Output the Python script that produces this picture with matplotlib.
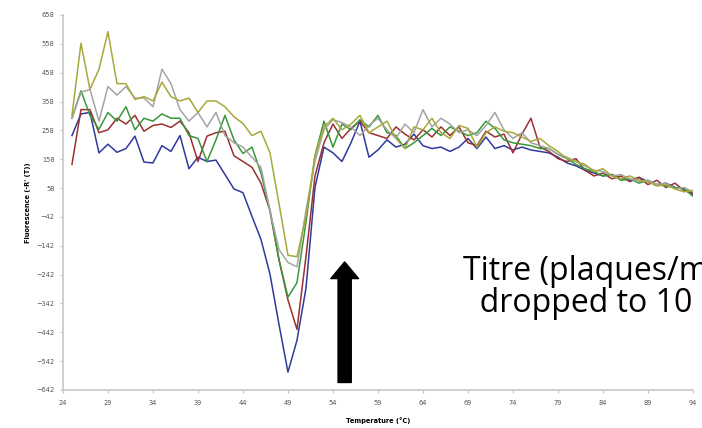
import matplotlib.pyplot as plt
import numpy as np

# melt curve readings, one value per degree
temps = list(range(25, 95))

blue = [240, 315, 320, 180, 210, 182, 195, 238, 148, 145,
        205, 185, 240, 125, 165, 150, 155, 105, 55, 42,
        -40, -120, -240, -414, -580, -470, -290, 60, 200, 180,
        150, 215, 290, 165, 190, 225, 200, 210, 245, 205,
        195, 200, 185, 200, 230, 195, 235, 195, 205, 190,
        200, 190, 185, 180, 165, 145, 135, 120, 110, 100,
        105, 90, 85, 95, 80, 70, 75, 60, 55, 35]

red = [140, 330, 330, 250, 260, 300, 280, 310, 255, 275,
       280, 268, 290, 250, 150, 238, 250, 255, 170, 150,
       130, 75, -20, -190, -330, -432, -180, 100, 215, 280,
       230, 265, 290, 250, 240, 230, 270, 245, 225, 260,
       235, 270, 240, 270, 215, 205, 255, 235, 245, 180,
       245, 300, 200, 185, 160, 150, 160, 120, 100, 110,
       90, 100, 80, 95, 70, 85, 60, 75, 50, 40]

green = [300, 395, 310, 262, 320, 290, 340, 260, 300, 290,
         315, 300, 300, 240, 230, 150, 225, 310, 225, 178,
         200, 110, -20, -190, -320, -270, -60, 170, 290, 200,
         280, 260, 295, 270, 310, 250, 240, 195, 215, 240,
         265, 240, 270, 255, 240, 250, 290, 265, 225, 215,
         210, 205, 195, 195, 175, 160, 140, 125, 115, 100,
         105, 85, 90, 75, 85, 70, 65, 60, 55, 30]

grey = [300, 390, 400, 290, 410, 380, 410, 370, 370, 340,
        470, 420, 330, 290, 320, 270, 320, 240, 215, 200,
        165, 130, -20, -155, -200, -215, -20, 150, 260, 295,
        285, 270, 240, 275, 300, 260, 230, 280, 250, 330,
        270, 300, 280, 250, 260, 240, 275, 320, 260, 230,
        250, 215, 205, 195, 175, 165, 150, 135, 120, 115,
        100, 105, 90, 80, 85, 70, 75, 55, 60, 45]

olive = [310, 560, 400, 470, 600, 420, 420, 365, 375, 360,
         425, 375, 360, 370, 320, 360, 360, 340, 305, 282,
         240, 255, 180, 5, -175, -180, -40, 170, 270, 300,
         260, 280, 310, 250, 270, 290, 230, 195, 270, 260,
         300, 250, 230, 275, 265, 200, 250, 270, 255, 250,
         235, 220, 230, 205, 185, 160, 150, 140, 115, 125,
         100, 90, 100, 85, 80, 65, 70, 55, 45, 50]

series = [(blue, '#30399c'), (red, '#9c2f2f'), (green, '#37983a'),
          (grey, '#a4a4a4'), (olive, '#a8a83a')]

yticks = list(range(-642, 659, 100))
xticks = list(range(24, 95, 5))

fig = plt.figure(figsize=(7.02, 4.28), dpi=100)
ax = fig.add_axes([0.0897, 0.0888, 0.8974, 0.8762])

for values, colour in series:
    ax.plot(temps, values, color=colour, linewidth=1.1)

ax.set_xlim(24, 94)
ax.set_ylim(-642, 658)
ax.set_xticks(xticks)
ax.set_yticks(yticks)
ax.tick_params(labelsize=4.8, labelcolor='#555555', color='#c0c0c0',
               length=2.5, width=0.8)
ax.tick_params(axis='x', pad=5)
for side in ['top', 'right']:
    ax.spines[side].set_visible(False)
for side in ['left', 'bottom']:
    ax.spines[side].set_color('#c8c8c8')
    ax.spines[side].set_linewidth(1.2)

ax.set_xlabel('Temperature (°C)', fontsize=4.8, fontweight='bold', labelpad=8)
ax.set_ylabel("Fluorescence (-R' (T))", fontsize=4.8, fontweight='bold', labelpad=4)

# black arrow pointing up at the drop
ax.annotate('', xy=(55.3, -198), xytext=(55.3, -616),
            arrowprops=dict(arrowstyle='simple,head_length=12,head_width=20,tail_width=9.5',
                            mutation_scale=1, color='black', shrinkA=0, shrinkB=0))

# slide caption, runs off the right edge like the original
fig.text(0.6595, 0.271, 'Titre (plaques/ml)\n  dropped to 10', fontsize=23,
         family='Open Sans', ha='left', va='baseline', linespacing=0.95)

fig.savefig('out.png', dpi=100)
